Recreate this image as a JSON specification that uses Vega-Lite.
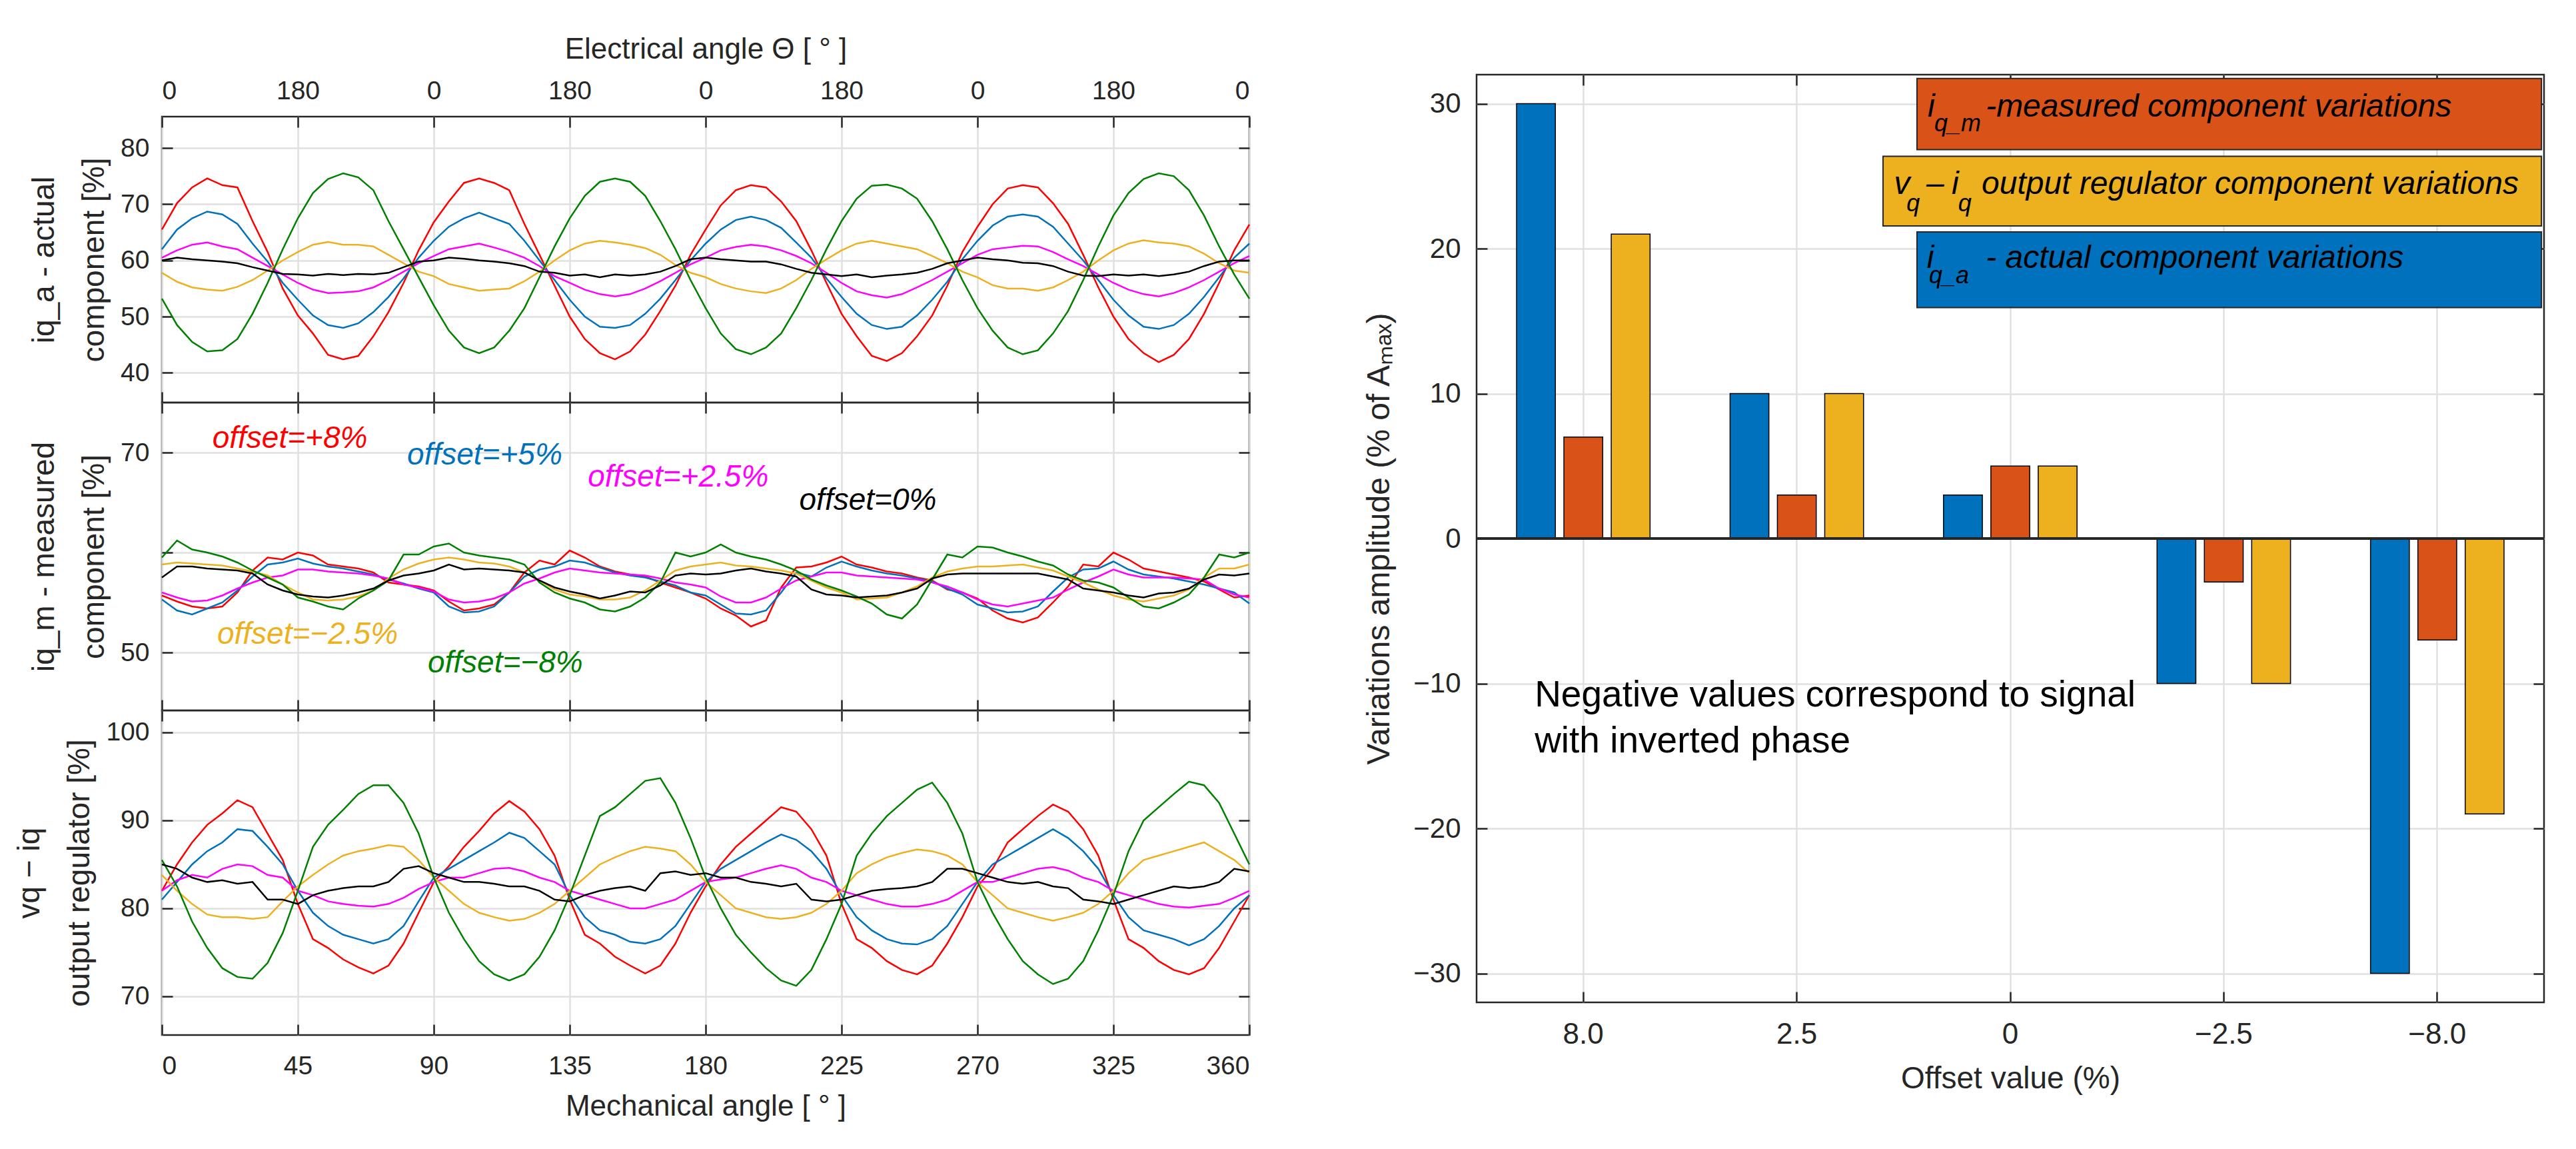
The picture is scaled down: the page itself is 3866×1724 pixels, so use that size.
{
"$schema": "https://vega.github.io/schema/vega-lite/v6.json",
"autosize": {"type": "none"},
"padding": {"left": 243, "top": 112, "right": 3623, "bottom": 1612},
"config": {
  "font": "Liberation Sans",
  "view": {"stroke": "#262626", "strokeWidth": 2.5},
  "axis": {"domain": false, "grid": false, "gridColor": "#e0e0e0", "gridWidth": 2.5, "tickColor": "#262626", "tickWidth": 2.5, "tickSize": -16, "labelColor": "#262626", "labelFontSize": 39, "labelFont": "Liberation Sans", "titleFont": "Liberation Sans", "titleColor": "#262626", "titleFontSize": 46, "titleFontWeight": "normal"}
},
"datasets": {
"A": [
{"t":0,"r":65.5,"b":62.0,"m":60.5,"y":57.8,"g":53.2,"k":60.0},
{"t":5,"r":70.2,"b":65.5,"m":61.8,"y":56.2,"g":48.5,"k":60.5},
{"t":10,"r":73.0,"b":67.5,"m":62.8,"y":55.2,"g":45.5,"k":60.2},
{"t":15,"r":74.6,"b":68.7,"m":63.2,"y":54.8,"g":43.8,"k":60.0},
{"t":20,"r":73.4,"b":68.2,"m":62.5,"y":54.6,"g":44.0,"k":59.8},
{"t":25,"r":73.0,"b":66.5,"m":62.0,"y":55.3,"g":46.0,"k":59.5},
{"t":30,"r":67.0,"b":63.0,"m":60.5,"y":56.5,"g":50.5,"k":58.8},
{"t":35,"r":61.5,"b":59.8,"m":59.0,"y":58.2,"g":56.0,"k":58.2},
{"t":40,"r":55.0,"b":56.0,"m":57.5,"y":60.0,"g":62.0,"k":57.6},
{"t":45,"r":50.2,"b":53.0,"m":56.0,"y":61.5,"g":67.5,"k":57.5},
{"t":50,"r":47.0,"b":50.2,"m":54.8,"y":62.8,"g":72.0,"k":57.3},
{"t":55,"r":43.2,"b":48.5,"m":54.2,"y":63.3,"g":74.5,"k":57.6},
{"t":60,"r":42.4,"b":48.0,"m":54.3,"y":62.8,"g":75.5,"k":57.4},
{"t":65,"r":43.0,"b":48.8,"m":54.5,"y":62.8,"g":74.8,"k":57.6},
{"t":70,"r":46.5,"b":50.8,"m":55.2,"y":62.5,"g":72.5,"k":57.5},
{"t":75,"r":50.8,"b":53.5,"m":56.5,"y":61.0,"g":67.0,"k":57.8},
{"t":80,"r":56.0,"b":56.8,"m":58.0,"y":59.5,"g":62.0,"k":58.8},
{"t":85,"r":61.8,"b":60.5,"m":59.5,"y":58.0,"g":57.0,"k":59.8},
{"t":90,"r":66.8,"b":63.5,"m":60.8,"y":57.2,"g":52.0,"k":60.0},
{"t":95,"r":70.5,"b":66.0,"m":62.0,"y":55.8,"g":47.5,"k":60.5},
{"t":100,"r":73.8,"b":67.5,"m":62.5,"y":55.2,"g":44.5,"k":60.3},
{"t":105,"r":74.6,"b":68.5,"m":63.0,"y":54.6,"g":43.5,"k":60.0},
{"t":110,"r":73.8,"b":67.5,"m":62.3,"y":54.8,"g":44.5,"k":59.8},
{"t":115,"r":72.5,"b":66.5,"m":61.5,"y":55.0,"g":47.5,"k":59.5},
{"t":120,"r":66.5,"b":63.5,"m":60.5,"y":56.3,"g":51.5,"k":59.0},
{"t":125,"r":61.0,"b":60.0,"m":59.0,"y":58.0,"g":57.0,"k":58.0},
{"t":130,"r":55.5,"b":56.5,"m":57.2,"y":60.0,"g":62.5,"k":57.8},
{"t":135,"r":50.0,"b":53.0,"m":56.0,"y":61.8,"g":67.5,"k":57.3},
{"t":140,"r":46.0,"b":50.0,"m":54.8,"y":63.0,"g":71.5,"k":57.5},
{"t":145,"r":43.5,"b":48.2,"m":54.0,"y":63.5,"g":74.0,"k":57.0},
{"t":150,"r":42.4,"b":48.0,"m":53.6,"y":63.2,"g":74.6,"k":57.5},
{"t":155,"r":43.8,"b":48.5,"m":54.0,"y":62.8,"g":74.0,"k":57.3},
{"t":160,"r":46.8,"b":50.5,"m":55.0,"y":62.2,"g":71.5,"k":57.5},
{"t":165,"r":51.0,"b":53.2,"m":56.3,"y":61.0,"g":67.0,"k":58.0},
{"t":170,"r":55.5,"b":56.5,"m":57.8,"y":59.2,"g":62.0,"k":59.0},
{"t":175,"r":61.0,"b":60.0,"m":59.3,"y":57.8,"g":56.5,"k":60.2},
{"t":180,"r":65.5,"b":63.0,"m":60.5,"y":57.0,"g":51.5,"k":60.5},
{"t":185,"r":69.8,"b":65.5,"m":61.8,"y":55.8,"g":47.0,"k":60.2},
{"t":190,"r":72.5,"b":67.2,"m":62.4,"y":55.0,"g":44.2,"k":60.0},
{"t":195,"r":73.4,"b":67.8,"m":62.8,"y":54.5,"g":43.3,"k":59.8},
{"t":200,"r":73.0,"b":67.2,"m":62.5,"y":54.2,"g":44.5,"k":59.8},
{"t":205,"r":70.5,"b":65.8,"m":61.8,"y":55.0,"g":47.0,"k":59.3},
{"t":210,"r":67.0,"b":63.2,"m":60.8,"y":56.5,"g":51.5,"k":58.5},
{"t":215,"r":61.8,"b":60.5,"m":59.5,"y":58.5,"g":56.5,"k":57.8},
{"t":220,"r":56.0,"b":56.8,"m":57.8,"y":60.2,"g":62.0,"k":57.5},
{"t":225,"r":50.5,"b":53.5,"m":56.0,"y":61.8,"g":67.0,"k":57.2},
{"t":230,"r":46.5,"b":50.5,"m":54.5,"y":63.0,"g":71.0,"k":57.5},
{"t":235,"r":43.0,"b":48.5,"m":53.8,"y":63.5,"g":73.3,"k":57.0},
{"t":240,"r":42.1,"b":47.8,"m":53.4,"y":63.0,"g":73.5,"k":57.3},
{"t":245,"r":43.5,"b":48.2,"m":54.0,"y":62.5,"g":72.8,"k":57.5},
{"t":250,"r":46.5,"b":50.2,"m":55.2,"y":62.0,"g":71.0,"k":57.8},
{"t":255,"r":50.2,"b":53.0,"m":56.5,"y":60.8,"g":67.0,"k":58.5},
{"t":260,"r":55.5,"b":56.2,"m":58.0,"y":59.5,"g":62.0,"k":59.5},
{"t":265,"r":61.5,"b":60.2,"m":59.5,"y":58.0,"g":56.5,"k":60.0},
{"t":270,"r":66.0,"b":63.5,"m":61.0,"y":57.0,"g":51.5,"k":60.5},
{"t":275,"r":70.0,"b":66.2,"m":62.0,"y":55.6,"g":47.5,"k":60.2},
{"t":280,"r":72.8,"b":67.8,"m":62.3,"y":55.0,"g":44.5,"k":60.0},
{"t":285,"r":73.4,"b":68.2,"m":62.6,"y":55.0,"g":43.3,"k":59.6},
{"t":290,"r":73.0,"b":67.8,"m":62.5,"y":54.6,"g":44.0,"k":59.5},
{"t":295,"r":70.2,"b":66.0,"m":61.5,"y":55.2,"g":47.0,"k":59.0},
{"t":300,"r":66.5,"b":63.0,"m":60.2,"y":56.5,"g":51.0,"k":58.0},
{"t":305,"r":61.0,"b":60.0,"m":59.0,"y":58.0,"g":56.5,"k":57.3},
{"t":310,"r":55.2,"b":56.5,"m":57.5,"y":60.0,"g":62.5,"k":57.2},
{"t":315,"r":50.0,"b":53.0,"m":56.0,"y":61.8,"g":68.0,"k":57.5},
{"t":320,"r":46.0,"b":50.2,"m":54.8,"y":63.0,"g":72.0,"k":57.3},
{"t":325,"r":43.5,"b":48.2,"m":54.0,"y":63.6,"g":74.5,"k":57.5},
{"t":330,"r":41.9,"b":47.8,"m":53.6,"y":63.2,"g":75.5,"k":57.2},
{"t":335,"r":43.2,"b":48.5,"m":54.2,"y":63.0,"g":75.0,"k":57.5},
{"t":340,"r":46.0,"b":50.5,"m":55.2,"y":62.5,"g":72.5,"k":58.0},
{"t":345,"r":50.5,"b":53.5,"m":56.5,"y":61.2,"g":68.0,"k":59.0},
{"t":350,"r":56.0,"b":57.0,"m":58.0,"y":59.5,"g":62.5,"k":59.8},
{"t":355,"r":61.8,"b":60.5,"m":59.5,"y":58.2,"g":57.5,"k":60.0},
{"t":360,"r":66.4,"b":63.0,"m":60.8,"y":57.8,"g":53.2,"k":60.0}
],
"M": [
{"t":0,"r":55.7,"b":55.3,"m":56.0,"y":58.8,"g":59.5,"k":57.5},
{"t":5,"r":55.1,"b":54.2,"m":55.5,"y":59.0,"g":61.2,"k":58.6},
{"t":10,"r":54.6,"b":53.8,"m":55.1,"y":58.9,"g":60.3,"k":58.6},
{"t":15,"r":54.4,"b":54.4,"m":55.2,"y":58.8,"g":60.0,"k":58.4},
{"t":20,"r":54.6,"b":55.0,"m":55.7,"y":58.7,"g":59.6,"k":58.3},
{"t":25,"r":56.0,"b":56.2,"m":56.4,"y":58.4,"g":59.0,"k":58.2},
{"t":30,"r":58.2,"b":57.6,"m":57.0,"y":58.1,"g":58.2,"k":57.9},
{"t":35,"r":59.5,"b":58.8,"m":57.5,"y":57.7,"g":57.5,"k":56.8},
{"t":40,"r":59.3,"b":59.0,"m":57.7,"y":56.8,"g":56.8,"k":56.2},
{"t":45,"r":60.0,"b":59.4,"m":58.3,"y":56.0,"g":55.5,"k":55.8},
{"t":50,"r":59.7,"b":58.9,"m":58.3,"y":55.3,"g":55.1,"k":55.6},
{"t":55,"r":58.8,"b":58.6,"m":58.1,"y":55.2,"g":54.6,"k":55.5},
{"t":60,"r":58.6,"b":58.4,"m":58.0,"y":55.3,"g":54.3,"k":55.7},
{"t":65,"r":58.4,"b":58.1,"m":57.9,"y":55.6,"g":55.4,"k":56.0},
{"t":70,"r":58.0,"b":57.8,"m":57.7,"y":56.2,"g":56.2,"k":56.4},
{"t":75,"r":57.0,"b":57.3,"m":57.4,"y":57.4,"g":57.2,"k":57.2},
{"t":80,"r":56.8,"b":56.9,"m":56.8,"y":58.3,"g":59.8,"k":57.7},
{"t":85,"r":56.6,"b":56.4,"m":56.5,"y":58.9,"g":59.8,"k":57.9},
{"t":90,"r":56.2,"b":56.0,"m":56.1,"y":59.3,"g":60.6,"k":58.2},
{"t":95,"r":55.1,"b":54.6,"m":55.3,"y":59.5,"g":60.9,"k":58.8},
{"t":100,"r":54.2,"b":54.0,"m":55.0,"y":59.3,"g":60.0,"k":58.3},
{"t":105,"r":54.4,"b":54.1,"m":55.1,"y":59.0,"g":59.7,"k":58.4},
{"t":110,"r":54.8,"b":54.6,"m":55.4,"y":58.9,"g":59.5,"k":58.3},
{"t":115,"r":56.0,"b":56.0,"m":56.0,"y":58.6,"g":59.3,"k":58.2},
{"t":120,"r":58.0,"b":57.6,"m":56.9,"y":58.0,"g":58.8,"k":58.0},
{"t":125,"r":59.2,"b":58.3,"m":57.4,"y":57.2,"g":57.0,"k":57.2},
{"t":130,"r":58.8,"b":58.6,"m":58.0,"y":56.3,"g":56.0,"k":56.5},
{"t":135,"r":60.2,"b":59.2,"m":58.4,"y":55.8,"g":55.4,"k":56.1},
{"t":140,"r":59.5,"b":59.0,"m":58.2,"y":55.6,"g":55.0,"k":55.8},
{"t":145,"r":58.6,"b":58.5,"m":58.0,"y":55.3,"g":54.3,"k":55.4},
{"t":150,"r":58.1,"b":58.0,"m":57.9,"y":55.3,"g":54.1,"k":55.7},
{"t":155,"r":57.8,"b":57.7,"m":57.8,"y":55.5,"g":54.6,"k":56.1},
{"t":160,"r":57.6,"b":57.5,"m":57.7,"y":56.2,"g":55.5,"k":56.0},
{"t":165,"r":57.0,"b":57.1,"m":57.4,"y":57.2,"g":57.0,"k":56.7},
{"t":170,"r":56.5,"b":56.7,"m":57.0,"y":58.2,"g":60.0,"k":57.7},
{"t":175,"r":56.0,"b":56.0,"m":56.8,"y":58.6,"g":59.6,"k":57.9},
{"t":180,"r":55.4,"b":55.7,"m":56.5,"y":58.8,"g":60.0,"k":57.8},
{"t":185,"r":54.4,"b":54.8,"m":55.6,"y":59.0,"g":60.8,"k":57.9},
{"t":190,"r":53.7,"b":53.9,"m":55.0,"y":58.7,"g":60.0,"k":58.2},
{"t":195,"r":52.6,"b":53.8,"m":55.0,"y":58.6,"g":59.6,"k":58.4},
{"t":200,"r":53.2,"b":54.2,"m":55.5,"y":58.4,"g":59.3,"k":58.1},
{"t":205,"r":56.5,"b":56.0,"m":56.4,"y":58.2,"g":58.8,"k":57.9},
{"t":210,"r":58.5,"b":58.0,"m":57.2,"y":57.9,"g":58.2,"k":57.6},
{"t":215,"r":58.6,"b":57.6,"m":57.6,"y":57.2,"g":57.3,"k":56.3},
{"t":220,"r":59.0,"b":58.5,"m":58.0,"y":56.5,"g":56.7,"k":55.8},
{"t":225,"r":59.6,"b":59.1,"m":58.0,"y":56.0,"g":56.2,"k":55.7},
{"t":230,"r":58.8,"b":58.6,"m":57.7,"y":55.3,"g":55.6,"k":55.5},
{"t":235,"r":58.5,"b":58.2,"m":57.6,"y":55.4,"g":54.9,"k":55.6},
{"t":240,"r":58.1,"b":57.9,"m":57.5,"y":55.5,"g":53.8,"k":55.7},
{"t":245,"r":57.9,"b":57.7,"m":57.4,"y":56.0,"g":53.4,"k":56.0},
{"t":250,"r":57.5,"b":57.4,"m":57.3,"y":56.6,"g":54.8,"k":56.4},
{"t":255,"r":57.2,"b":57.1,"m":57.0,"y":57.5,"g":57.3,"k":57.4},
{"t":260,"r":56.3,"b":56.4,"m":56.6,"y":58.1,"g":59.8,"k":57.8},
{"t":265,"r":56.0,"b":55.8,"m":56.0,"y":58.4,"g":59.5,"k":57.9},
{"t":270,"r":55.4,"b":54.8,"m":55.3,"y":58.6,"g":60.6,"k":57.9},
{"t":275,"r":54.2,"b":54.4,"m":54.8,"y":58.6,"g":60.5,"k":57.9},
{"t":280,"r":53.4,"b":54.0,"m":54.6,"y":58.7,"g":60.0,"k":57.9},
{"t":285,"r":53.0,"b":54.1,"m":54.9,"y":58.8,"g":59.6,"k":57.9},
{"t":290,"r":53.5,"b":54.6,"m":55.2,"y":58.5,"g":59.1,"k":57.9},
{"t":295,"r":55.0,"b":56.1,"m":55.5,"y":58.2,"g":58.7,"k":57.6},
{"t":300,"r":56.6,"b":57.5,"m":56.3,"y":57.6,"g":57.8,"k":57.3},
{"t":305,"r":58.8,"b":58.3,"m":57.0,"y":57.0,"g":57.2,"k":56.4},
{"t":310,"r":58.6,"b":58.4,"m":57.6,"y":56.3,"g":57.0,"k":56.2},
{"t":315,"r":60.0,"b":59.1,"m":58.3,"y":55.7,"g":56.5,"k":56.0},
{"t":320,"r":59.3,"b":58.3,"m":57.8,"y":55.3,"g":55.5,"k":55.7},
{"t":325,"r":58.4,"b":57.8,"m":57.5,"y":55.1,"g":54.6,"k":55.5},
{"t":330,"r":58.1,"b":57.6,"m":57.5,"y":55.4,"g":54.4,"k":55.9},
{"t":335,"r":57.8,"b":57.4,"m":57.5,"y":55.7,"g":55.0,"k":56.0},
{"t":340,"r":57.5,"b":57.1,"m":57.4,"y":56.3,"g":55.8,"k":56.4},
{"t":345,"r":57.1,"b":56.8,"m":57.3,"y":57.5,"g":57.5,"k":57.3},
{"t":350,"r":56.3,"b":56.4,"m":56.4,"y":58.4,"g":59.8,"k":57.8},
{"t":355,"r":55.5,"b":56.0,"m":55.8,"y":58.4,"g":59.5,"k":57.7},
{"t":360,"r":55.7,"b":54.9,"m":55.5,"y":58.8,"g":60.0,"k":57.9}
],
"V": [
{"t":0,"r":82.0,"b":81.0,"m":82.0,"y":83.8,"g":85.5,"k":85.0},
{"t":5,"r":85.0,"b":83.0,"m":83.2,"y":82.0,"g":82.5,"k":84.5},
{"t":10,"r":87.5,"b":85.0,"m":83.8,"y":80.5,"g":78.5,"k":83.5},
{"t":15,"r":89.5,"b":86.5,"m":83.5,"y":79.3,"g":75.5,"k":83.0},
{"t":20,"r":90.8,"b":87.5,"m":84.5,"y":79.0,"g":73.2,"k":83.2},
{"t":25,"r":92.3,"b":89.0,"m":85.0,"y":79.0,"g":72.2,"k":82.8},
{"t":30,"r":91.5,"b":88.8,"m":84.8,"y":78.8,"g":72.0,"k":83.0},
{"t":35,"r":88.5,"b":87.0,"m":83.8,"y":79.0,"g":73.8,"k":81.0},
{"t":40,"r":85.5,"b":85.0,"m":83.5,"y":80.8,"g":77.2,"k":81.0},
{"t":45,"r":80.5,"b":82.0,"m":82.0,"y":82.5,"g":82.0,"k":80.5},
{"t":50,"r":76.5,"b":79.5,"m":81.5,"y":83.8,"g":87.0,"k":81.5},
{"t":55,"r":75.5,"b":78.0,"m":80.8,"y":85.0,"g":89.5,"k":82.0},
{"t":60,"r":74.2,"b":77.0,"m":80.5,"y":86.0,"g":91.2,"k":82.3},
{"t":65,"r":73.3,"b":76.5,"m":80.3,"y":86.5,"g":93.0,"k":82.5},
{"t":70,"r":72.6,"b":76.0,"m":80.2,"y":86.8,"g":94.0,"k":82.5},
{"t":75,"r":73.5,"b":76.5,"m":80.5,"y":87.2,"g":94.0,"k":83.0},
{"t":80,"r":76.0,"b":78.0,"m":81.2,"y":87.0,"g":92.0,"k":84.5},
{"t":85,"r":79.5,"b":80.8,"m":82.2,"y":85.5,"g":88.5,"k":84.8},
{"t":90,"r":83.0,"b":83.5,"m":83.0,"y":83.5,"g":83.5,"k":84.0},
{"t":95,"r":84.8,"b":84.5,"m":83.5,"y":82.0,"g":79.5,"k":83.5},
{"t":100,"r":87.0,"b":85.5,"m":83.5,"y":80.5,"g":76.5,"k":83.0},
{"t":105,"r":88.8,"b":86.5,"m":84.0,"y":79.5,"g":74.0,"k":83.0},
{"t":110,"r":90.8,"b":87.5,"m":84.5,"y":79.0,"g":72.5,"k":82.8},
{"t":115,"r":92.2,"b":88.6,"m":84.6,"y":78.6,"g":71.8,"k":82.5},
{"t":120,"r":91.0,"b":88.0,"m":84.2,"y":78.8,"g":72.5,"k":82.5},
{"t":125,"r":89.0,"b":86.5,"m":83.5,"y":79.5,"g":74.5,"k":82.0},
{"t":130,"r":86.0,"b":85.0,"m":83.0,"y":80.5,"g":77.5,"k":81.0},
{"t":135,"r":81.0,"b":81.5,"m":82.0,"y":82.0,"g":81.5,"k":80.8},
{"t":140,"r":77.0,"b":79.0,"m":81.5,"y":83.5,"g":86.0,"k":81.5},
{"t":145,"r":76.0,"b":77.5,"m":81.0,"y":85.0,"g":90.5,"k":82.0},
{"t":150,"r":74.5,"b":77.0,"m":80.5,"y":85.8,"g":91.5,"k":82.3},
{"t":155,"r":73.5,"b":76.2,"m":80.0,"y":86.5,"g":93.0,"k":82.5},
{"t":160,"r":72.6,"b":76.0,"m":80.0,"y":87.0,"g":94.5,"k":82.0},
{"t":165,"r":73.5,"b":76.5,"m":80.5,"y":86.8,"g":94.8,"k":84.0},
{"t":170,"r":76.0,"b":78.0,"m":81.0,"y":86.5,"g":92.0,"k":84.2},
{"t":175,"r":79.5,"b":80.5,"m":82.0,"y":85.0,"g":88.0,"k":83.8},
{"t":180,"r":82.5,"b":83.0,"m":83.0,"y":83.0,"g":83.5,"k":84.0},
{"t":185,"r":85.0,"b":84.5,"m":83.3,"y":81.5,"g":80.0,"k":83.5},
{"t":190,"r":87.0,"b":85.5,"m":83.5,"y":80.0,"g":77.0,"k":83.5},
{"t":195,"r":88.5,"b":86.5,"m":84.0,"y":79.5,"g":75.0,"k":83.0},
{"t":200,"r":90.0,"b":87.5,"m":84.5,"y":79.0,"g":73.2,"k":82.8},
{"t":205,"r":91.5,"b":88.4,"m":84.9,"y":78.8,"g":71.8,"k":82.5},
{"t":210,"r":91.0,"b":87.8,"m":84.5,"y":79.0,"g":71.2,"k":82.8},
{"t":215,"r":89.0,"b":86.5,"m":83.5,"y":79.5,"g":73.0,"k":81.0},
{"t":220,"r":86.0,"b":84.5,"m":83.0,"y":80.5,"g":76.5,"k":80.8},
{"t":225,"r":80.5,"b":81.5,"m":82.0,"y":82.0,"g":80.5,"k":81.0},
{"t":230,"r":76.5,"b":79.0,"m":81.5,"y":84.0,"g":86.0,"k":81.5},
{"t":235,"r":75.5,"b":77.5,"m":81.0,"y":85.0,"g":88.5,"k":82.0},
{"t":240,"r":74.0,"b":76.5,"m":80.5,"y":85.8,"g":90.5,"k":82.2},
{"t":245,"r":73.0,"b":76.0,"m":80.2,"y":86.3,"g":92.0,"k":82.3},
{"t":250,"r":72.5,"b":75.9,"m":80.2,"y":86.7,"g":93.5,"k":82.5},
{"t":255,"r":73.5,"b":76.5,"m":80.5,"y":86.5,"g":94.3,"k":83.0},
{"t":260,"r":76.0,"b":78.0,"m":81.0,"y":86.0,"g":92.0,"k":84.5},
{"t":265,"r":79.0,"b":80.5,"m":82.0,"y":85.0,"g":88.5,"k":84.5},
{"t":270,"r":82.5,"b":83.0,"m":83.0,"y":83.0,"g":83.0,"k":84.0},
{"t":275,"r":84.5,"b":85.0,"m":83.0,"y":81.5,"g":79.5,"k":83.5},
{"t":280,"r":87.5,"b":86.0,"m":83.5,"y":80.0,"g":76.5,"k":83.0},
{"t":285,"r":89.0,"b":87.0,"m":84.0,"y":79.5,"g":74.0,"k":82.8},
{"t":290,"r":90.5,"b":88.0,"m":84.5,"y":79.0,"g":72.5,"k":83.0},
{"t":295,"r":91.8,"b":89.0,"m":84.7,"y":78.6,"g":71.4,"k":82.5},
{"t":300,"r":91.0,"b":88.0,"m":84.3,"y":79.0,"g":72.0,"k":82.3},
{"t":305,"r":89.0,"b":86.5,"m":83.5,"y":79.5,"g":74.0,"k":81.0},
{"t":310,"r":86.0,"b":84.5,"m":83.0,"y":80.5,"g":77.5,"k":80.8},
{"t":315,"r":81.0,"b":81.5,"m":82.0,"y":82.0,"g":81.5,"k":80.5},
{"t":320,"r":76.5,"b":79.0,"m":81.5,"y":84.0,"g":86.5,"k":81.0},
{"t":325,"r":75.5,"b":77.5,"m":81.0,"y":85.5,"g":90.0,"k":81.5},
{"t":330,"r":74.0,"b":77.0,"m":80.5,"y":86.0,"g":91.5,"k":82.0},
{"t":335,"r":73.0,"b":76.5,"m":80.2,"y":86.5,"g":93.0,"k":82.5},
{"t":340,"r":72.5,"b":75.8,"m":80.1,"y":87.0,"g":94.4,"k":82.3},
{"t":345,"r":73.2,"b":76.5,"m":80.3,"y":87.5,"g":94.0,"k":82.5},
{"t":350,"r":75.5,"b":78.0,"m":80.5,"y":86.5,"g":92.0,"k":83.0},
{"t":355,"r":78.5,"b":80.0,"m":81.2,"y":85.5,"g":88.5,"k":84.5},
{"t":360,"r":81.5,"b":81.5,"m":82.0,"y":84.0,"g":85.0,"k":84.2}
],
"labels": [
{"t":16.7,"v":70.5,"s":"r","txt":"offset=+8%"},
{"t":81.2,"v":68.8,"s":"b","txt":"offset=+5%"},
{"t":141,"v":66.6,"s":"m","txt":"offset=+2.5%"},
{"t":211,"v":64.3,"s":"k","txt":"offset=0%"},
{"t":18.3,"v":50.9,"s":"y","txt":"offset=−2.5%"},
{"t":88,"v":48.0,"s":"g","txt":"offset=−8%"}
],
"bars": [
{"o":"8.0","s":"a","val":30},{"o":"8.0","s":"m","val":7},{"o":"8.0","s":"v","val":21},
{"o":"2.5","s":"a","val":10},{"o":"2.5","s":"m","val":3},{"o":"2.5","s":"v","val":10},
{"o":"0","s":"a","val":3},{"o":"0","s":"m","val":5},{"o":"0","s":"v","val":5},
{"o":"−2.5","s":"a","val":-10},{"o":"−2.5","s":"m","val":-3},{"o":"−2.5","s":"v","val":-10},
{"o":"−8.0","s":"a","val":-30},{"o":"−8.0","s":"m","val":-7},{"o":"−8.0","s":"v","val":-19}
],
"boxes": [
{"s":"m","x1":2.063,"x2":4.988,"y1":31.73,"y2":26.83},
{"s":"v","x1":1.904,"x2":4.988,"y1":26.37,"y2":21.56},
{"s":"a","x1":2.063,"x2":4.988,"y1":21.15,"y2":15.93}
],
"boxtext": [
{"x":2.113,"y":29.12,"t":"i"},
{"x":2.385,"y":29.12,"t":"-measured  component variations"},
{"x":1.955,"y":23.78,"t":"v"},
{"x":2.107,"y":23.78,"t":"–"},
{"x":2.225,"y":23.78,"t":"i"},
{"x":2.366,"y":23.78,"t":"output regulator component variations"},
{"x":2.109,"y":18.67,"t":"i"},
{"x":2.385,"y":18.67,"t":"- actual component variations"}
],
"boxsub": [
{"x":2.144,"y":28.07,"t":"q_m"},
{"x":2.014,"y":22.57,"t":"q"},
{"x":2.256,"y":22.57,"t":"q"},
{"x":2.119,"y":17.6,"t":"q_a"}
],
"note": [
{"x":0.272,"y":-11.6,"t":"Negative values correspond to signal"},
{"x":0.272,"y":-14.77,"t":"with inverted phase"}
],
"empty": []
},
"resolve": {"scale": {"color": "independent"}},
"spacing": 163,
"align": "none",
"hconcat": [
{
 "vconcat": [
  {
   "width": 1632, "height": 63,
   "view": {"stroke": null},
   "data": {"name": "empty"},
   "mark": "text",
   "encoding": {"text": {"value": ""}}
  },
  {
   "width": 1632, "height": 429,
   "data": {"name": "A"},
   "layer": [
    {"transform": [{"fold": ["r","b","m","y","g","k"], "as": ["s","v"]}],
     "mark": {"type": "line", "strokeWidth": 2.5},
     "encoding": {
      "x": {"field": "t", "type": "quantitative", "scale": {"domain": [0,360], "nice": false}, "axis": {"orient": "bottom", "values": [0,45,90,135,180,225,270,315,360], "labels": false, "grid": true, "title": null, "minExtent": 0, "maxExtent": 0}},
      "y": {"field": "v", "type": "quantitative", "scale": {"domain": [34.7,85.6], "nice": false, "zero": false}, "axis": {"orient": "left", "values": [40,50,60,70,80], "grid": true, "labelPadding": 35, "titlePadding": 15, "titleLineHeight": 75, "title": ["iq_a - actual", "component [%]"]}},
      "color": {"field": "s", "type": "nominal", "scale": {"domain": ["r","b","m","k","y","g"], "range": ["#ff0000","#0072bd","#ff00ff","#000000","#edb120","#008000"]}, "legend": null}
     }},
    {"mark": {"type": "point", "opacity": 0},
     "encoding": {
      "x": {"field": "t", "type": "quantitative", "axis": {"orient": "top", "values": [0,45,90,135,180,225,270,315,360], "labelExpr": "datum.value % 90 == 0 ? '0' : '180'", "labelPadding": 35, "titlePadding": 21, "titleFontSize": 44, "title": "Electrical angle Θ [ ° ]"}},
      "y": {"field": "r", "type": "quantitative", "axis": {"orient": "right", "values": [40,50,60,70,80], "labels": false, "title": null, "minExtent": 0, "maxExtent": 0}}
     }}
   ],
   "resolve": {"axis": {"x": "independent", "y": "independent"}}
  },
  {
   "width": 1632, "height": 462,
   "data": {"name": "M"},
   "layer": [
    {"transform": [{"fold": ["r","b","m","y","g","k"], "as": ["s","v"]}],
     "mark": {"type": "line", "strokeWidth": 2.5},
     "encoding": {
      "x": {"field": "t", "type": "quantitative", "scale": {"domain": [0,360], "nice": false}, "axis": {"orient": "bottom", "values": [0,45,90,135,180,225,270,315,360], "labels": false, "grid": true, "title": null, "minExtent": 0, "maxExtent": 0}},
      "y": {"field": "v", "type": "quantitative", "scale": {"domain": [44.2,75], "nice": false, "zero": false}, "axis": {"orient": "left", "values": [50,60,70], "labelExpr": "datum.value == 60 ? '' : datum.label", "grid": true, "labelPadding": 35, "titlePadding": 15, "titleLineHeight": 75, "title": ["iq_m - measured", "component [%]"]}},
      "color": {"field": "s", "type": "nominal", "scale": {"domain": ["r","b","m","k","y","g"], "range": ["#ff0000","#0072bd","#ff00ff","#000000","#edb120","#008000"]}, "legend": null}
     }},
    {"mark": {"type": "point", "opacity": 0},
     "encoding": {
      "x": {"field": "t", "type": "quantitative", "axis": {"orient": "top", "values": [0,45,90,135,180,225,270,315,360], "labels": false, "title": null, "minExtent": 0, "maxExtent": 0}},
      "y": {"field": "r", "type": "quantitative", "axis": {"orient": "right", "values": [50,60,70], "labels": false, "title": null, "minExtent": 0, "maxExtent": 0}}
     }},
    {"data": {"name": "labels"},
     "mark": {"type": "text", "align": "left", "baseline": "alphabetic", "fontSize": 46, "fontStyle": "italic", "font": "Liberation Sans"},
     "encoding": {
      "x": {"field": "t", "type": "quantitative", "axis": null},
      "y": {"field": "v", "type": "quantitative", "axis": null},
      "text": {"field": "txt"},
      "color": {"field": "s", "type": "nominal", "legend": null}
     }}
   ],
   "resolve": {"axis": {"x": "independent", "y": "independent"}}
  },
  {
   "width": 1632, "height": 487,
   "data": {"name": "V"},
   "layer": [
    {"transform": [{"fold": ["r","b","m","y","g","k"], "as": ["s","v"]}],
     "mark": {"type": "line", "strokeWidth": 2.5},
     "encoding": {
      "x": {"field": "t", "type": "quantitative", "scale": {"domain": [0,360], "nice": false}, "axis": {"orient": "bottom", "values": [0,45,90,135,180,225,270,315,360], "labelExpr": "datum.value == 315 ? '325' : datum.label", "grid": true, "labelPadding": 43, "titlePadding": 19, "titleFontSize": 44, "title": "Mechanical angle [ ° ]"}},
      "y": {"field": "v", "type": "quantitative", "scale": {"domain": [65.6,102.5], "nice": false, "zero": false}, "axis": {"orient": "left", "values": [70,80,90,100], "grid": true, "labelPadding": 35, "titlePadding": 15, "titleLineHeight": 75, "title": ["vq − iq", "output regulator [%]"]}},
      "color": {"field": "s", "type": "nominal", "scale": {"domain": ["r","b","m","k","y","g"], "range": ["#ff0000","#0072bd","#ff00ff","#000000","#edb120","#008000"]}, "legend": null}
     }},
    {"mark": {"type": "point", "opacity": 0},
     "encoding": {
      "x": {"field": "t", "type": "quantitative", "axis": {"orient": "top", "values": [0,45,90,135,180,225,270,315,360], "labels": false, "title": null, "minExtent": 0, "maxExtent": 0}},
      "y": {"field": "r", "type": "quantitative", "axis": {"orient": "right", "values": [70,80,90,100], "labels": false, "title": null, "minExtent": 0, "maxExtent": 0}}
     }}
   ],
   "resolve": {"axis": {"x": "independent", "y": "independent"}}
  }
 ],
 "spacing": 0,
 "bounds": "flush"
},
{
 "width": 1602, "height": 1392,
 "layer": [
  {
   "data": {"name": "bars"},
   "layer": [
    {"mark": {"type": "bar", "stroke": "#000000", "strokeWidth": 1.5},
     "encoding": {
      "x": {"field": "o", "type": "nominal", "sort": ["8.0","2.5","0","−2.5","−8.0"], "scale": {"paddingInner": 0, "paddingOuter": 0}, "axis": {"orient": "bottom", "labelAngle": 0, "bandPosition": 0.5, "grid": true, "labelFontSize": 44, "labelPadding": 42, "titlePadding": 22, "title": "Offset value  (%)"}},
      "xOffset": {"field": "s", "type": "nominal", "sort": ["a","m","v"], "scale": {"paddingInner": 0.18, "paddingOuter": 0.845}},
      "y": {"field": "val", "type": "quantitative", "scale": {"domain": [-32,32], "nice": false}, "axis": {"orient": "left", "values": [-30,-20,-10,0,10,20,30], "grid": true, "labelFontSize": 42, "labelPadding": 40, "titlePadding": 26, "titleFontSize": 48, "title": "Variations amplitude  (% of Aₘₐₓ)"}},
      "color": {"field": "s", "type": "nominal", "scale": {"domain": ["a","m","v"], "range": ["#0072bd","#d95319","#edb120"]}, "legend": null}
     }},
    {"mark": {"type": "bar", "opacity": 0},
     "encoding": {
      "x": {"field": "o", "type": "nominal", "sort": ["8.0","2.5","0","−2.5","−8.0"], "axis": {"orient": "top", "labels": false, "bandPosition": 0.5, "title": null, "minExtent": 0, "maxExtent": 0}},
      "y": {"field": "val", "type": "quantitative", "axis": {"orient": "right", "values": [-30,-20,-10,0,10,20,30], "labels": false, "title": null, "minExtent": 0, "maxExtent": 0}}
     }},
    {"mark": {"type": "rule", "color": "#262626", "strokeWidth": 3},
     "encoding": {"y": {"datum": 0, "axis": null}}}
   ],
   "resolve": {"axis": {"x": "independent", "y": "independent"}}
  },
  {
   "layer": [
    {"data": {"name": "boxes"},
     "mark": {"type": "rect", "stroke": "#262626", "strokeWidth": 2},
     "encoding": {
      "x": {"field": "x1", "type": "quantitative", "scale": {"domain": [0,5], "nice": false, "zero": false}, "axis": null},
      "x2": {"field": "x2"},
      "y": {"field": "y1", "type": "quantitative", "axis": null},
      "y2": {"field": "y2"},
      "color": {"field": "s", "type": "nominal", "legend": null}
     }},
    {"data": {"name": "boxtext"},
     "mark": {"type": "text", "align": "left", "baseline": "alphabetic", "fontSize": 48, "fontStyle": "italic", "color": "#000000", "font": "Liberation Sans"},
     "encoding": {
      "x": {"field": "x", "type": "quantitative", "axis": null},
      "y": {"field": "y", "type": "quantitative", "axis": null},
      "text": {"field": "t"}
     }},
    {"data": {"name": "boxsub"},
     "mark": {"type": "text", "align": "left", "baseline": "alphabetic", "fontSize": 36, "fontStyle": "italic", "color": "#000000", "font": "Liberation Sans"},
     "encoding": {
      "x": {"field": "x", "type": "quantitative", "axis": null},
      "y": {"field": "y", "type": "quantitative", "axis": null},
      "text": {"field": "t"}
     }},
    {"data": {"name": "note"},
     "mark": {"type": "text", "align": "left", "baseline": "alphabetic", "fontSize": 55, "color": "#000000", "font": "Liberation Sans"},
     "encoding": {
      "x": {"field": "x", "type": "quantitative", "axis": null},
      "y": {"field": "y", "type": "quantitative", "axis": null},
      "text": {"field": "t"}
     }}
   ]
  }
 ],
 "resolve": {"scale": {"x": "independent"}}
}
]
}
